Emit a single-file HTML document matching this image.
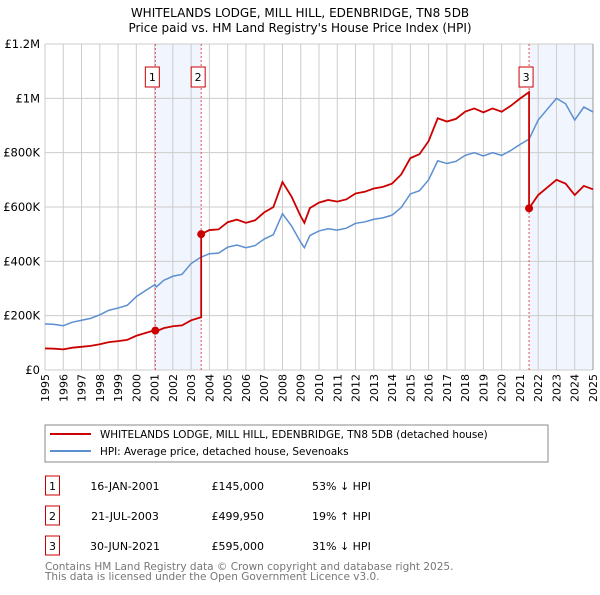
<!DOCTYPE html>
<html><head><meta charset="utf-8"><style>
body{margin:0;background:#fff;font-family:"Liberation Sans","DejaVu Sans",sans-serif;}
svg text{font-family:"DejaVu Sans","Liberation Sans",sans-serif;}
</style></head><body>
<svg id="c" width="600" height="590" xmlns="http://www.w3.org/2000/svg">
<text x="300" y="17" text-anchor="middle" font-size="12">WHITELANDS LODGE, MILL HILL, EDENBRIDGE, TN8 5DB</text>
<text x="300" y="32" text-anchor="middle" font-size="12">Price paid vs. HM Land Registry's House Price Index (HPI)</text>
<g id="grid"></g><g id="series"></g>
<rect x="45" y="425" width="503" height="37" fill="none" stroke="#888"/>
<line x1="50" y1="434" x2="91" y2="434" stroke="#cc0000" stroke-width="2"/>
<text x="100" y="438" font-size="10.4">WHITELANDS LODGE, MILL HILL, EDENBRIDGE, TN8 5DB (detached house)</text>
<line x1="50" y1="451" x2="91" y2="451" stroke="#5b8fd1" stroke-width="2"/>
<text x="100" y="455" font-size="10.4">HPI: Average price, detached house, Sevenoaks</text>
<g id="tbl" font-size="11"></g>
<text x="45" y="570" font-size="10.5" fill="#777">Contains HM Land Registry data © Crown copyright and database right 2025.</text>
<text x="45" y="580" font-size="10.5" fill="#777">This data is licensed under the Open Government Licence v3.0.</text>
</svg>
<script>
const hpiYears=[1995,1995.5,1996,1996.5,1997,1997.5,1998,1998.5,1999,1999.5,2000,2000.5,2001,2001.1,2001.5,2002,2002.5,2003,2003.5,2004,2004.5,2005,2005.5,2006,2006.5,2007,2007.5,2008,2008.5,2009,2009.2,2009.5,2010,2010.5,2011,2011.5,2012,2012.5,2013,2013.5,2014,2014.5,2015,2015.5,2016,2016.5,2017,2017.5,2018,2018.5,2019,2019.5,2020,2020.5,2021,2021.5,2022,2022.5,2023,2023.5,2024,2024.5,2025];
const hpiValues=[170,168,163,176,183,190,203,220,228,238,270,292,314,306,330,345,352,392,414,428,430,452,460,450,458,482,498,575,530,470,450,495,512,520,515,522,540,545,555,560,570,598,648,660,700,770,760,768,790,800,788,800,790,808,830,850,920,960,1000,980,920,968,950];
const saleYears=[2001.04,2003.55,2021.5];
const salePrices=[145000,499950,595000];
const saleLabels=["1","2","3"];
const saleDates=["16-JAN-2001","21-JUL-2003","30-JUN-2021"];
const salePriceText=["£145,000","£499,950","£595,000"];
const saleHpiText=["53% ↓ HPI","19% ↑ HPI","31% ↓ HPI"];
const yTicks=[0,200000,400000,600000,800000,1000000,1200000];
const yTickLabels=["£0","£200K","£400K","£600K","£800K","£1M","£1.2M"];
const NS="http://www.w3.org/2000/svg";
const X=y=>45+(y-1995)*(548/30);
const Y=v=>370-v/1200000*326;
function mk(tag,attrs,parent){const e=document.createElementNS(NS,tag);for(const k in attrs)e.setAttribute(k,attrs[k]);parent.appendChild(e);return e;}
const grid=document.getElementById('grid'),ser=document.getElementById('series'),tbl=document.getElementById('tbl');
function hpiAt(t){for(let i=0;i<hpiYears.length-1;i++){if(t<=hpiYears[i+1]){const f=(t-hpiYears[i])/(hpiYears[i+1]-hpiYears[i]);return (hpiValues[i]+f*(hpiValues[i+1]-hpiValues[i]))*1000;}}return hpiValues[hpiValues.length-1]*1000;}
let r=mk('rect',{x:X(saleYears[0]),y:44,width:X(saleYears[1])-X(saleYears[0]),height:326,fill:'#eef3fc',opacity:0.8},grid);

r=mk('rect',{x:X(saleYears[2]),y:44,width:X(2025)-X(saleYears[2]),height:326,fill:'#eef3fc',opacity:0.8},grid);

for(let yr=1995;yr<=2025;yr++){
 const l=mk('line',{x1:X(yr),x2:X(yr),y1:44,y2:370,stroke:'#ccc','stroke-width':1},grid);
 
 const t=mk('text',{x:0,y:0,'font-size':11,'text-anchor':'end',transform:`translate(${X(yr)+4},374) rotate(-90)`},grid);
 t.textContent=yr;
}
yTicks.forEach((v,i)=>{
 const l=mk('line',{x1:45,x2:593,y1:Y(v),y2:Y(v),stroke:'#ccc','stroke-width':1},grid);
 
 const t=mk('text',{x:40,y:Y(v)+4,'font-size':11.5,'text-anchor':'end'},grid);
 t.textContent=yTickLabels[i];
});
const edge=mk('line',{x1:X(2025),x2:X(2025),y1:44,y2:370,stroke:'#999'},grid);

saleYears.forEach((s,i)=>{
 const l=mk('line',{x1:X(s),x2:X(s),y1:44,y2:370,stroke:'#e05050','stroke-dasharray':'2,2','stroke-width':1},grid);
 
 const b=mk('rect',{x:X(s)-10,y:67,width:14,height:20,fill:'#fff',stroke:'#cc0000'},grid);
 
 const t=mk('text',{x:X(s)-3,y:81,'font-size':11,'text-anchor':'middle'},grid);
 t.textContent=saleLabels[i];
});
let pts=hpiYears.map((y,i)=>X(y)+','+Y(hpiValues[i]*1000)).join(' ');
const hl=mk('polyline',{points:pts,fill:'none',stroke:'#5b8fd1','stroke-width':1.5},ser);

function factorAt(t){let k=0;for(let i=0;i<saleYears.length;i++)if(t>=saleYears[i])k=i;return salePrices[k]/hpiAt(saleYears[k]);}
let rp=[];
const times=hpiYears.slice();saleYears.forEach(s=>times.push(s));times.sort((a,b)=>a-b);
times.forEach(t=>{
 const si=saleYears.indexOf(t);
 if(si>0){rp.push([t,hpiAt(t)*salePrices[si-1]/hpiAt(saleYears[si-1])]);}
 rp.push([t,hpiAt(t)*factorAt(t)]);
});
const rl=mk('polyline',{points:rp.map(p=>X(p[0])+','+Y(p[1])).join(' '),fill:'none',stroke:'#cc0000','stroke-width':1.8},ser);

saleYears.forEach((s,i)=>{
 const d=mk('circle',{cx:X(s),cy:Y(salePrices[i]),r:4,fill:'#cc0000'},ser);
 
 const y0=476+i*30;
 const b=mk('rect',{x:45.5,y:y0,width:14,height:19,fill:'#fff',stroke:'#cc0000'},tbl);
 
 const vals=[[52.5,saleLabels[i],'middle'],[125,saleDates[i],'middle'],[264,salePriceText[i],'end'],[312,saleHpiText[i],'start']];
 vals.forEach(v=>{const t=mk('text',{x:v[0],y:y0+14,'text-anchor':v[2]},tbl);t.textContent=v[1];
  });
});
</script>
</body></html>
